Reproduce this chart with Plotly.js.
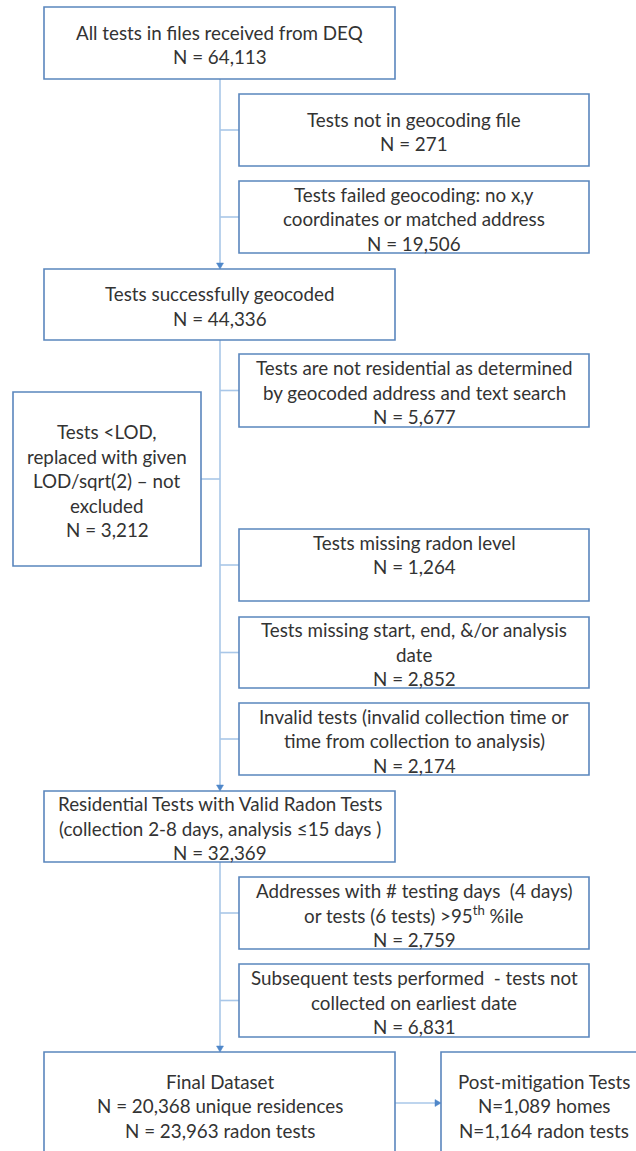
<!DOCTYPE html>
<html>
<head>
<meta charset="utf-8">
<script src="https://cdn.plot.ly/plotly-3.0.1.min.js"></script>
<style>html,body{margin:0;padding:0;background:#fff;}#chart{width:636px;height:1151px;}</style>
</head>
<body>
<div id="chart"></div>
<script>
// ---------------- DATA ----------------
const mainSteps = [
  "All tests in files received from DEQ",
  "Tests successfully geocoded",
  "Residential Tests with Valid Radon Tests<br>(collection 2-8 days, analysis ≤15 days )",
  "Final Dataset"
];
const mainCounts = [
  "N = 64,113",
  "N = 44,336",
  "N = 32,369",
  "N = 20,368 unique residences<br>N = 23,963 radon tests"
];
const exclusionSteps = [
  "Tests not in geocoding file",
  "Tests failed geocoding: no x,y<br>coordinates or matched address",
  "Tests are not residential as determined<br>by geocoded address and text search",
  "Tests missing radon level",
  "Tests missing start, end, &/or analysis<br>date",
  "Invalid tests (invalid collection time or<br>time from collection to analysis)",
  "Addresses with # testing days  (4 days)<br>or tests (6 tests) >95<sup>th</sup> %ile",
  "Subsequent tests performed  - tests not<br>collected on earliest date"
];
const exclusionCounts = ["N = 271", "N = 19,506", "N = 5,677", "N = 1,264", "N = 2,852", "N = 2,174", "N = 2,759", "N = 6,831"];
const lodNote = "Tests <LOD,<br>replaced with given<br>LOD/sqrt(2) – not<br>excluded";
const lodCount = "N = 3,212";
const postStep = "Post-mitigation Tests";
const postCounts = "N=1,089 homes<br>N=1,164 radon tests";

// ---------------- LAYOUT GEOMETRY (pixel space) ----------------
const W = 636, H = 1151;
const mainX = [44, 395];
const mainY = [[7, 79], [269, 340], [791, 862], [1052, 1156]];
const exclX = [239, 589];
const exclY = [[94,166],[181,253],[354,427],[529,601],[617,688],[703,775],[877,949],[964,1037]];
const exclPad = [0,0,0,1,0,0,0,0];   // blank trailing lines
const lodX = [13, 201], lodY = [392, 566];
const postX = [441, 647], postY = [1052, 1156];
const spineX = 220;
const LINE_H = 24.5;
const TEXT_DY = 1.5;

const boxColor = "#5a86bd";
const connColor = "#a9c7e8";
const arrowColor = "#4f87c9";
const textColor = "#333333";
const FONT = {family: "Lato, 'Open Sans', sans-serif", size: 18.8, color: textColor};

const shapes = [];
const annotations = [];

function box(x, y) {
  shapes.push({type: "rect", xref: "x", yref: "y", x0: x[0], x1: x[1], y0: y[0], y1: y[1],
    line: {color: boxColor, width: 1.6}, fillcolor: "rgba(255,255,255,0)", layer: "above"});
}
function textBlock(lines, cx, cy, pad) {
  const n = lines.length + (pad || 0);
  lines.forEach((t, i) => {
    annotations.push({xref: "x", yref: "y", x: cx, y: cy + TEXT_DY + (i - (n - 1) / 2) * LINE_H,
      text: t, showarrow: false, xanchor: "center", yanchor: "middle", font: FONT});
  });
}
function line(x0, y0, x1, y1) {
  shapes.push({type: "line", xref: "x", yref: "y", x0, y0, x1, y1,
    line: {color: connColor, width: 1.6}, layer: "below"});
}
function arrowDown(x, yTip) {
  shapes.push({type: "path", xref: "x", yref: "y",
    path: `M${x-3.5},${yTip-6} L${x+3.5},${yTip-6} L${x},${yTip} Z`,
    fillcolor: arrowColor, line: {color: arrowColor, width: 0.5}});
}
function arrowRight(xTip, y) {
  shapes.push({type: "path", xref: "x", yref: "y",
    path: `M${xTip-6},${y-3.5} L${xTip-6},${y+3.5} L${xTip},${y} Z`,
    fillcolor: arrowColor, line: {color: arrowColor, width: 0.5}});
}
const split = s => s.split("<br>");

// main boxes
mainSteps.forEach((s, i) => {
  box(mainX, mainY[i]);
  const lines = split(s).concat(split(mainCounts[i]));
  const cy = i === 3 ? 1104 : (mainY[i][0] + mainY[i][1]) / 2;
  textBlock(lines, (mainX[0] + mainX[1]) / 2, cy);
});
// exclusion boxes
exclusionSteps.forEach((s, i) => {
  box(exclX, exclY[i]);
  const cy = (exclY[i][0] + exclY[i][1]) / 2;
  textBlock(split(s).concat([exclusionCounts[i]]), (exclX[0] + exclX[1]) / 2, cy, exclPad[i]);
  line(spineX, cy, exclX[0], cy);
});
// LOD box
box(lodX, lodY);
textBlock(split(lodNote).concat([lodCount]), (lodX[0] + lodX[1]) / 2, (lodY[0] + lodY[1]) / 2);
line(lodX[1], 479, spineX, 479);
// post box
box(postX, postY);
textBlock([postStep].concat(split(postCounts)), (postX[0] + postX[1]) / 2, 1104);

// spine
line(spineX, mainY[0][1], spineX, mainY[1][0] - 2); arrowDown(spineX, mainY[1][0]);
line(spineX, mainY[1][1], spineX, mainY[2][0] - 2); arrowDown(spineX, mainY[2][0]);
line(spineX, mainY[2][1], spineX, mainY[3][0] - 2); arrowDown(spineX, mainY[3][0]);
line(mainX[1], 1103, postX[0] - 2, 1103); arrowRight(postX[0], 1103);

const layout = {
  width: W, height: H, margin: {l: 0, r: 0, t: 0, b: 0},
  paper_bgcolor: "#ffffff", plot_bgcolor: "#ffffff",
  xaxis: {range: [0, W], visible: false, fixedrange: true},
  yaxis: {range: [H, 0], visible: false, fixedrange: true},
  shapes, annotations, showlegend: false
};
Plotly.newPlot("chart", [], layout, {staticPlot: true, displayModeBar: false});
</script>
</body>
</html>
